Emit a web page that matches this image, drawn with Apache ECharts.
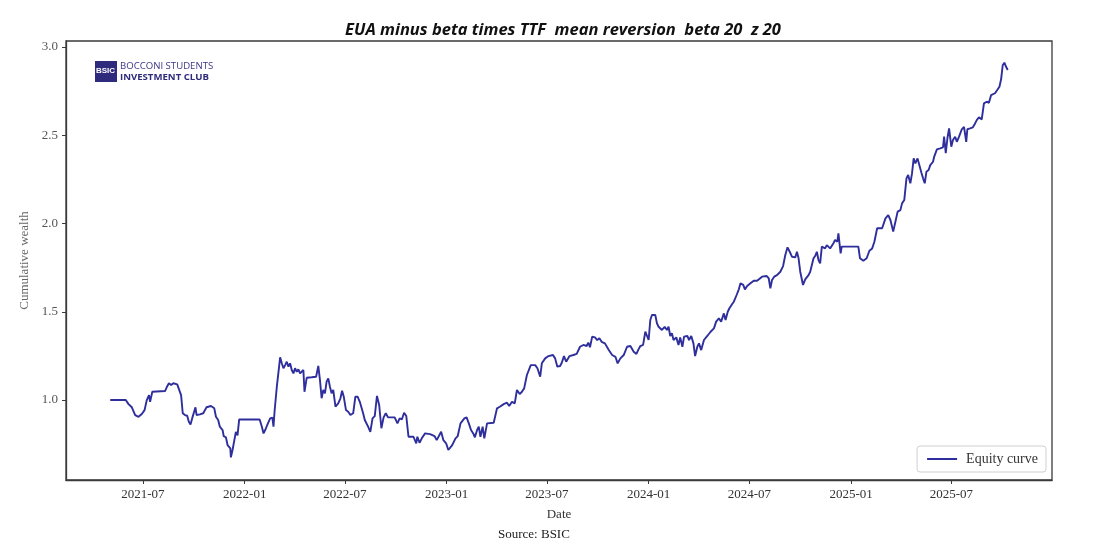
<!DOCTYPE html>
<html>
<head>
<meta charset="utf-8">
<script src="https://cdn.jsdelivr.net/npm/echarts@6/dist/echarts.min.js"></script>
<style>
html,body{margin:0;padding:0;background:#fff;}
#chart{width:1104px;height:556px;}
</style>
</head>
<body>
<div id="chart"></div>
<script>
// ---- Data ----
const chartTitle = 'EUA minus beta times TTF  mean reversion  beta 20  z 20';
const seriesName = 'Equity curve';
const yTicks = [1.0, 1.5, 2.0, 2.5, 3.0];
const xTicks = ['2021-07-01','2022-01-01','2022-07-01','2023-01-01','2023-07-01','2024-01-01','2024-07-01','2025-01-01','2025-07-01'];
const xRange = ['2021-02-12', '2025-12-30'];

const dates = [
'2021-05-03','2021-05-31','2021-06-05','2021-06-08','2021-06-11','2021-06-17','2021-06-23','2021-06-29','2021-07-04','2021-07-08',
'2021-07-12','2021-07-14','2021-07-18','2021-08-10','2021-08-13','2021-08-17','2021-08-21','2021-08-25','2021-08-28','2021-09-01',
'2021-09-04','2021-09-08','2021-09-11','2021-09-15','2021-09-19','2021-09-22','2021-09-25','2021-09-28','2021-10-01','2021-10-04',
'2021-10-06','2021-10-12','2021-10-18','2021-10-24','2021-11-01','2021-11-07','2021-11-10','2021-11-14','2021-11-17','2021-11-22',
'2021-11-24','2021-11-28','2021-12-01','2021-12-06','2021-12-07','2021-12-10','2021-12-13','2021-12-16','2021-12-19','2021-12-22',
'2022-01-28','2022-02-01','2022-02-04','2022-02-07','2022-02-10','2022-02-12','2022-02-16','2022-02-20','2022-02-22','2022-02-24',
'2022-02-27','2022-02-28','2022-03-06','2022-03-09','2022-03-12','2022-03-15','2022-03-18','2022-03-21','2022-03-24','2022-03-27',
'2022-03-30','2022-04-02','2022-04-05','2022-04-08','2022-04-11','2022-04-17','2022-04-19','2022-04-23','2022-05-02','2022-05-10',
'2022-05-14','2022-05-17','2022-05-20','2022-05-23','2022-05-26','2022-05-29','2022-06-01','2022-06-04','2022-06-07','2022-06-10',
'2022-06-14','2022-06-19','2022-06-23','2022-06-26','2022-06-29','2022-07-03','2022-07-07','2022-07-11','2022-07-16','2022-07-20',
'2022-07-24','2022-07-28','2022-07-31','2022-08-03','2022-08-06','2022-08-12','2022-08-16','2022-08-20','2022-08-24','2022-08-28',
'2022-09-01','2022-09-05','2022-09-09','2022-09-13','2022-09-17','2022-09-29','2022-10-04','2022-10-08','2022-10-12','2022-10-16',
'2022-10-20','2022-10-24','2022-11-02','2022-11-07','2022-11-09','2022-11-13','2022-11-17','2022-11-23','2022-12-02','2022-12-10',
'2022-12-14','2022-12-22','2022-12-26','2022-12-31','2023-01-04','2023-01-11','2023-01-17','2023-01-21','2023-01-26','2023-01-29',
'2023-02-02','2023-02-06','2023-02-10','2023-02-14','2023-02-18','2023-02-21','2023-02-25','2023-02-28','2023-03-03','2023-03-07',
'2023-03-10','2023-03-15','2023-03-27','2023-04-02','2023-04-07','2023-04-14','2023-04-20','2023-04-24','2023-04-29','2023-05-04',
'2023-05-08','2023-05-13','2023-05-17','2023-05-21','2023-05-26','2023-05-29','2023-06-02','2023-06-10','2023-06-14','2023-06-19',
'2023-06-22','2023-06-28','2023-07-04','2023-07-12','2023-07-16','2023-07-20','2023-07-25','2023-07-28','2023-08-01','2023-08-05',
'2023-08-07','2023-08-11','2023-08-18','2023-08-24','2023-08-30','2023-09-05','2023-09-11','2023-09-14','2023-09-17','2023-09-21',
'2023-09-26','2023-09-30','2023-10-04','2023-10-08','2023-10-14','2023-10-21','2023-10-27','2023-11-02','2023-11-06','2023-11-11',
'2023-11-17','2023-11-23','2023-11-29','2023-12-05','2023-12-10','2023-12-13','2023-12-17','2023-12-22','2023-12-26','2023-12-29',
'2024-01-01','2024-01-04','2024-01-07','2024-01-13','2024-01-16','2024-01-19','2024-01-22','2024-01-25','2024-01-30','2024-02-03',
'2024-02-06','2024-02-09','2024-02-12','2024-02-15','2024-02-20','2024-02-24','2024-02-27','2024-03-02','2024-03-05','2024-03-11',
'2024-03-14','2024-03-18','2024-03-22','2024-03-25','2024-03-29','2024-04-01','2024-04-05','2024-04-10','2024-04-16','2024-04-22',
'2024-04-28','2024-05-02','2024-05-07','2024-05-11','2024-05-16','2024-05-19','2024-05-23','2024-05-26','2024-05-31','2024-06-03',
'2024-06-08','2024-06-12','2024-06-15','2024-06-20','2024-06-23','2024-06-27','2024-07-03','2024-07-09','2024-07-15','2024-07-24',
'2024-08-01','2024-08-05','2024-08-08','2024-08-11','2024-08-15','2024-08-20','2024-08-26','2024-08-31','2024-09-04','2024-09-08',
'2024-09-12','2024-09-16','2024-09-22','2024-09-25','2024-09-28','2024-10-01','2024-10-06','2024-10-10','2024-10-13','2024-10-16',
'2024-10-19','2024-10-22','2024-10-25','2024-10-28','2024-10-31','2024-11-03','2024-11-06','2024-11-09','2024-11-12','2024-11-15',
'2024-11-18','2024-11-24','2024-11-30','2024-12-03','2024-12-07','2024-12-09','2024-12-13','2024-12-15','2025-01-14','2025-01-17',
'2025-01-23','2025-01-29','2025-02-03','2025-02-08','2025-02-12','2025-02-17','2025-02-26','2025-03-04','2025-03-09','2025-03-13',
'2025-03-18','2025-03-22','2025-03-26','2025-03-31','2025-04-03','2025-04-07','2025-04-11','2025-04-14','2025-04-18','2025-04-21',
'2025-04-24','2025-04-27','2025-05-01','2025-05-03','2025-05-08','2025-05-11','2025-05-14','2025-05-17','2025-05-21','2025-05-24',
'2025-05-29','2025-05-31','2025-06-05','2025-06-11','2025-06-16','2025-06-18','2025-06-21','2025-06-24','2025-06-27','2025-07-01',
'2025-07-04','2025-07-08','2025-07-11','2025-07-15','2025-07-20','2025-07-24','2025-07-28','2025-07-30','2025-08-04','2025-08-09',
'2025-08-13','2025-08-16','2025-08-20','2025-08-25','2025-08-29','2025-09-03','2025-09-07','2025-09-11','2025-09-14','2025-09-18',
'2025-09-22','2025-09-26','2025-09-29','2025-10-02','2025-10-05','2025-10-08','2025-10-11'
];

const wealth = [
1.000,1.000,0.977,0.985,0.959,0.915,0.905,0.921,0.943,1.000,
1.028,0.990,1.047,1.051,1.072,1.095,1.085,1.095,1.100,1.089,
1.085,1.028,0.925,0.915,0.911,0.877,0.862,0.896,0.887,0.959,
0.915,0.919,0.925,0.959,0.966,0.953,0.905,0.887,0.849,0.830,
0.796,0.789,0.745,0.726,0.675,0.717,0.713,0.820,0.800,0.890,
0.890,0.849,0.811,0.830,0.853,0.845,0.896,0.900,0.849,0.938,
0.943,1.075,1.242,1.208,1.180,1.198,1.217,1.189,1.208,1.170,
1.151,1.180,1.160,1.174,1.151,1.170,1.047,1.126,1.129,1.132,
1.193,1.113,1.010,1.057,1.038,1.104,1.123,1.075,1.038,1.057,
0.962,0.981,1.010,1.053,1.019,0.943,0.934,0.915,0.925,1.019,
1.019,0.990,0.981,0.925,0.887,0.849,0.820,0.896,0.909,1.023,
0.972,0.840,0.902,0.925,0.902,0.902,0.868,0.896,0.890,0.928,
0.909,0.792,0.792,0.755,0.792,0.758,0.783,0.811,0.807,0.796,
0.773,0.820,0.773,0.755,0.717,0.745,0.783,0.796,0.868,0.877,
0.896,0.902,0.868,0.830,0.811,0.789,0.830,0.849,0.792,0.849,
0.783,0.868,0.871,0.953,0.962,0.977,0.985,0.966,0.990,0.981,
1.057,1.034,1.047,1.066,1.142,1.132,1.198,1.198,1.180,1.132,
1.208,1.236,1.249,1.255,1.236,1.189,1.193,1.211,1.249,1.217,
1.208,1.249,1.255,1.261,1.302,1.312,1.306,1.325,1.299,1.359,
1.355,1.340,1.350,1.330,1.321,1.283,1.255,1.245,1.208,1.236,
1.255,1.302,1.306,1.274,1.261,1.283,1.306,1.312,1.387,1.397,
1.340,1.453,1.482,1.482,1.435,1.415,1.425,1.397,1.415,1.397,
1.415,1.363,1.378,1.340,1.355,1.312,1.355,1.302,1.359,1.363,
1.340,1.363,1.321,1.249,1.302,1.321,1.283,1.340,1.363,1.387,
1.406,1.444,1.463,1.444,1.491,1.453,1.500,1.520,1.544,1.557,
1.595,1.627,1.661,1.652,1.627,1.646,1.661,1.676,1.676,1.699,
1.703,1.690,1.633,1.680,1.699,1.708,1.727,1.759,1.822,1.865,
1.840,1.812,1.808,1.840,1.803,1.727,1.652,1.684,1.680,1.708,
1.727,1.737,1.803,1.816,1.840,1.793,1.774,1.869,1.878,1.859,
1.878,1.859,1.888,1.907,1.897,1.944,1.831,1.869,1.869,1.803,
1.789,1.803,1.846,1.859,1.897,1.973,1.973,2.029,2.048,2.020,
1.954,2.010,2.067,2.076,2.114,2.133,2.256,2.275,2.228,2.284,
2.369,2.341,2.369,2.369,2.288,2.256,2.228,2.293,2.303,2.331,
2.350,2.378,2.420,2.426,2.432,2.492,2.398,2.483,2.539,2.435,
2.473,2.492,2.463,2.492,2.534,2.548,2.463,2.534,2.539,2.545,
2.567,2.586,2.602,2.590,2.681,2.690,2.684,2.728,2.718,2.738,
2.756,2.775,2.817,2.898,2.911,2.888,2.870
];

// ---- Chart ----
const toMs = s => Date.parse(s + 'T00:00:00Z');
const lineColor = '#2e2e9c';
const serif = '"Liberation Serif", "DejaVu Serif", serif';
const chart = echarts.init(document.getElementById('chart'), null, {renderer: 'canvas'});
const seriesData = dates.map((d, i) => [toMs(d), wealth[i]]);
const xTickMs = xTicks.map(toMs);

chart.setOption({
  backgroundColor: '#ffffff',
  animation: false,
  title: {
    text: chartTitle,
    left: 558,
    textAlign: 'center',
    top: 17,
    textStyle: {fontFamily: '"Open Sans", sans-serif', fontSize: 16.5, fontWeight: 'bold', fontStyle: 'italic', color: '#111'}
  },
  grid: {left: 66, right: 52, top: 41, bottom: 76, show: true, borderColor: '#3a3a3a', borderWidth: 1.3, backgroundColor: '#fff'},
  legend: {
    data: [{name: seriesName, icon: 'rect'}],
    right: 58, top: 446,
    itemWidth: 30, itemHeight: 2, itemGap: 8,
    padding: [6, 8, 6, 10],
    borderColor: '#d0d0d0', borderWidth: 1, borderRadius: 3,
    backgroundColor: '#fff',
    textStyle: {fontFamily: serif, fontSize: 14, color: '#333', padding: [0, 0, 0, 4]}
  },
  xAxis: {
    type: 'value',
    min: toMs(xRange[0]),
    max: toMs(xRange[1]),
    name: 'Date',
    nameLocation: 'middle',
    nameGap: 28,
    nameTextStyle: {fontFamily: serif, fontSize: 13, color: '#333'},
    splitLine: {show: false},
    axisLine: {show: true, lineStyle: {color: '#3a3a3a', width: 1.3}},
    axisTick: {show: true, length: 4, lineStyle: {color: '#3a3a3a'}, customValues: xTickMs},
    axisLabel: {
      fontFamily: serif, fontSize: 13, color: '#333', margin: 8,
      customValues: xTickMs,
      formatter: v => { const d = new Date(v); return d.getUTCFullYear() + '-' + String(d.getUTCMonth() + 1).padStart(2, '0'); }
    }
  },
  yAxis: {
    type: 'value',
    min: 0.547,
    max: 3.034,
    name: 'Cumulative wealth',
    nameLocation: 'middle',
    nameGap: 35,
    nameTextStyle: {fontFamily: serif, fontSize: 13, color: '#666'},
    splitLine: {show: false},
    axisLine: {show: true, lineStyle: {color: '#3a3a3a', width: 1.3}},
    axisTick: {show: true, length: 4, lineStyle: {color: '#3a3a3a'}, customValues: yTicks},
    axisLabel: {fontFamily: serif, fontSize: 13, color: '#555', margin: 8, customValues: yTicks, formatter: v => v.toFixed(1)}
  },
  graphic: [
    {type: 'rect', left: 95, top: 61, shape: {width: 22, height: 21}, style: {fill: '#2f2b7c'}},
    {type: 'text', left: 96, top: 67, style: {text: 'BSIC', fill: '#ffffff', font: 'bold 8px "Liberation Sans", sans-serif'}},
    {type: 'text', left: 120, top: 61, style: {text: 'BOCCONI STUDENTS', fill: '#3b3786', font: '9.6px "Open Sans", sans-serif'}},
    {type: 'text', left: 120, top: 72, style: {text: 'INVESTMENT CLUB', fill: '#2f2b7c', font: 'bold 9.6px "Open Sans", sans-serif'}},
    {type: 'text', left: 498, top: 528, style: {text: 'Source: BSIC', fill: '#222', font: '13px "Liberation Serif", serif'}}
  ],
  series: [{
    name: seriesName,
    type: 'line',
    data: seriesData,
    showSymbol: false,
    symbol: 'none',
    lineStyle: {color: lineColor, width: 1.9},
    itemStyle: {color: lineColor}
  }]
});
</script>
</body>
</html>
